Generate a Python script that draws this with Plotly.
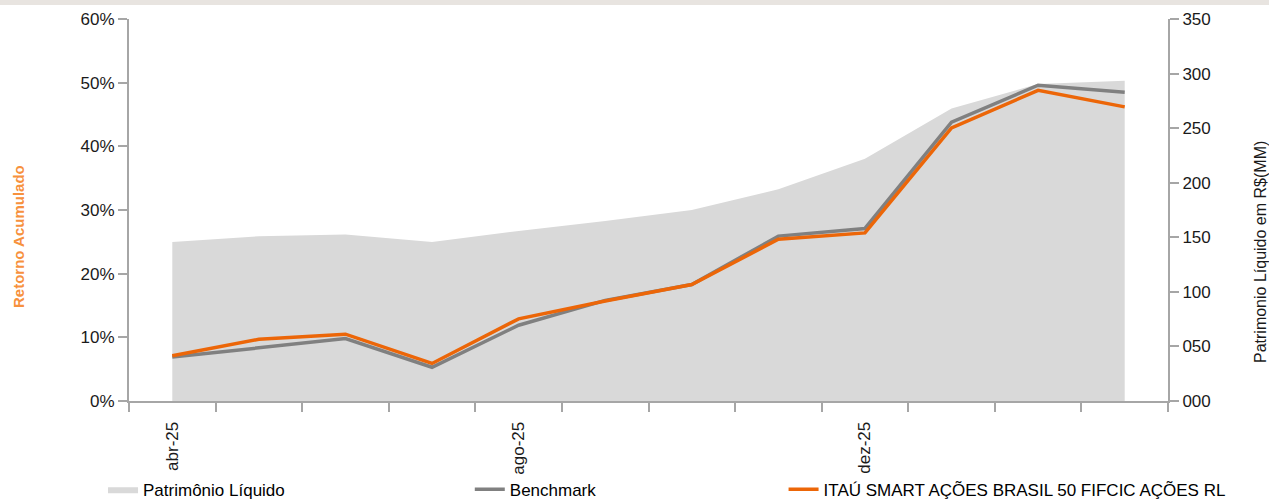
import plotly.graph_objects as go

months = ["abr-25", "mai-25", "jun-25", "jul-25", "ago-25", "set-25",
          "out-25", "nov-25", "dez-25", "jan-26", "fev-26", "mar-26"]
patrimonio = [145.7, 151, 152.5, 145.7, 155.8, 165, 175, 194, 222, 268, 290.5, 293.5]
benchmark = [6.9, 8.4, 9.8, 5.3, 11.9, 15.8, 18.3, 25.9, 27.1, 43.8, 49.6, 48.5]
fundo = [7.1, 9.7, 10.5, 5.9, 12.9, 15.7, 18.3, 25.4, 26.4, 42.9, 48.8, 46.2]
label_months = ["abr-25", "ago-25", "dez-25"]

xi = list(range(len(months)))
FONT = "Liberation Sans, Arial, sans-serif"
AXC = "#a6a6a6"

fig = go.Figure()
# area on the primary (right-side) axis so that the overlaying percent axis lines draw on top
fig.add_trace(go.Scatter(x=xi, y=patrimonio, yaxis="y", mode="lines", fill="tozeroy",
                         fillcolor="#d9d9d9", line=dict(width=0, color="#d9d9d9"),
                         name="Patrimônio Líquido", legend="legend"))
fig.add_trace(go.Scatter(x=xi, y=[v / 100 for v in benchmark], yaxis="y2", mode="lines",
                         line=dict(color="#808080", width=3.5), name="Benchmark", legend="legend2"))
fig.add_trace(go.Scatter(x=xi, y=[v / 100 for v in fundo], yaxis="y2", mode="lines",
                         line=dict(color="#ec6608", width=3.5),
                         name="ITAÚ SMART AÇÕES BRASIL 50 FIFCIC AÇÕES RL", legend="legend3"))

legend_common = dict(orientation="h", yanchor="middle", xanchor="left", y=-0.232,
                     font=dict(family=FONT, size=17, color="#000"), bgcolor="rgba(0,0,0,0)")

fig.update_layout(
    width=1269, height=500,
    margin=dict(l=129, r=101, t=19, b=99, autoexpand=False),
    paper_bgcolor="white", plot_bgcolor="white",
    font=dict(family=FONT, size=17, color="#1a1a1a"),
    xaxis=dict(range=[-0.5, 11.5], tickvals=[months.index(m) for m in label_months],
               ticktext=label_months, tickangle=-90, ticks="", showgrid=False,
               showline=True, linecolor=AXC, linewidth=2, zeroline=False,
               tickfont=dict(size=17), ticklabelstandoff=12,
               minor=dict(tick0=-0.5, dtick=1, ticks="outside", ticklen=9,
                          tickcolor=AXC, tickwidth=2, showgrid=False)),
    yaxis=dict(range=[0, 350], dtick=50, tickformat="03d", side="right",
               showgrid=False, showline=True, linecolor=AXC, linewidth=2,
               ticks="outside", ticklen=9, tickcolor=AXC, tickwidth=2, zeroline=False),
    yaxis2=dict(range=[0, 0.6], dtick=0.1, tickformat=".0%", side="left", overlaying="y",
                showgrid=False, showline=True, linecolor=AXC, linewidth=2, ticks="outside",
                ticklen=9, tickcolor=AXC, tickwidth=2, zeroline=False),
    legend=dict(x=-0.025, **legend_common),
    legend2=dict(x=0.328, **legend_common),
    legend3=dict(x=0.630, **legend_common),
    showlegend=True,
    annotations=[
        dict(text="<b>Retorno Acumulado</b>", xref="paper", yref="paper",
             x=(18 - 129) / 1039, y=(401 - 237) / 382, textangle=-90, showarrow=False,
             font=dict(family=FONT, size=15, color="#f7913d"), xanchor="center", yanchor="middle"),
        dict(text="Patrimonio Líquido em R$(MM)", xref="paper", yref="paper",
             x=(1260 - 129) / 1039, y=(401 - 252) / 382, textangle=-90, showarrow=False,
             font=dict(family=FONT, size=16, color="#1a1a1a"), xanchor="center", yanchor="middle"),
    ],
    shapes=[dict(type="rect", xref="paper", yref="paper", x0=-0.2, x1=1.2,
                 y0=(401 - 5) / 382, y1=1.1, fillcolor="#e8e4e0", line=dict(width=0), layer="below")],
)

fig.write_html("out.html", config={"displayModeBar": False},
               post_script="document.body.style.margin='0';document.body.style.overflow='hidden';")
